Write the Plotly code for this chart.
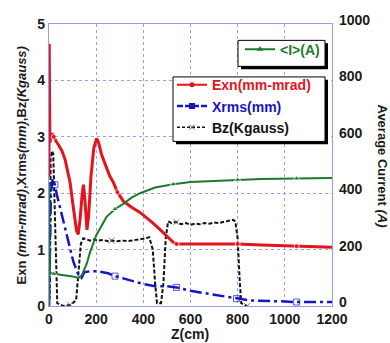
import plotly.graph_objects as go

# ---------------- data ----------------
exn_z = [0, 1, 2, 4, 8, 14, 20, 30, 40, 55, 68, 80, 89, 103, 117, 124, 132, 140, 146, 152, 157, 161, 168, 178, 190, 202, 210, 222, 235, 244, 258, 272, 290, 315, 350, 386, 420, 441, 470, 499, 527, 541, 570, 600, 700, 800, 900, 1050, 1200]
exn_v = [2.3, 4.65, 3.8, 2.9, 3.0, 3.06, 3.0, 2.92, 2.86, 2.75, 2.6, 2.4, 2.2, 1.75, 1.33, 1.27, 1.55, 1.95, 2.15, 1.9, 1.5, 1.35, 1.6, 2.3, 2.8, 2.97, 2.9, 2.7, 2.55, 2.45, 2.3, 2.2, 2.02, 1.86, 1.75, 1.66, 1.55, 1.47, 1.36, 1.24, 1.13, 1.1, 1.1, 1.1, 1.1, 1.1, 1.08, 1.06, 1.04]
exn_marks = [20, 290, 541, 800, 1050]

xrms_z = [0, 3, 8, 15, 20, 25, 33, 47, 75, 103, 124, 138, 150, 180, 216, 250, 280, 330, 400, 450, 480, 500, 541, 600, 700, 795, 850, 1000, 1050, 1200]
xrms_v = [0, 1.2, 2.0, 2.25, 2.2, 2.15, 1.98, 1.75, 1.3, 0.79, 0.56, 0.5, 0.6, 0.62, 0.61, 0.58, 0.53, 0.47, 0.39, 0.35, 0.35, 0.35, 0.33, 0.27, 0.2, 0.13, 0.1, 0.08, 0.07, 0.07]
xrms_marks = [25, 280, 541, 795, 1050]

bz_z = [0, 3, 7, 12, 18, 24, 30, 35, 60, 90, 115, 125, 135, 145, 160, 175, 190, 210, 230, 250, 265, 290, 310, 330, 350, 370, 390, 410, 425, 440, 450, 458, 475, 485, 495, 505, 520, 540, 560, 580, 600, 620, 640, 660, 680, 700, 720, 740, 760, 780, 790, 800, 808, 815, 840]
bz_v = [0, 0.2, 2.6, 2.75, 2.7, 1.8, 0.5, 0.05, 0.0, 0.02, 0.1, 0.6, 1.1, 1.2, 1.18, 1.16, 1.18, 1.16, 1.17, 1.15, 1.16, 1.15, 1.16, 1.15, 1.16, 1.17, 1.18, 1.2, 1.22, 1.0, 0.4, 0.05, 0.05, 0.4, 1.2, 1.5, 1.47, 1.49, 1.45, 1.47, 1.44, 1.46, 1.45, 1.47, 1.46, 1.48, 1.47, 1.49, 1.5, 1.53, 1.5, 1.2, 0.5, 0.05, 0.0]
bz_marks = [90, 265, 540, 840]

cur_z = [0, 1, 3, 20, 60, 100, 125, 140, 160, 174, 200, 244, 280, 315, 350, 386, 450, 527, 600, 700, 800, 900, 1050, 1200]
cur_v = [0, 440, 120, 114, 110, 105, 100, 110, 150, 190, 250, 316, 344, 362, 384, 400, 420, 432, 440, 444, 448, 450, 452, 454]
cur_marks = [20, 280, 527, 800, 1050]

# ---------------- layout helpers ----------------
W, H = 390, 343
L, R, T, B = 49, 332, 13, 306
def px_x(p):
    return (p - L) / (R - L)
def px_y(p):
    return (B - p) / (B - T)

RED = "#e3141b"
BLUE = "#1414c8"
GREEN = "#1c7a2c"
BLACK = "#111111"
FONT = "Liberation Sans, Arial, sans-serif"

def sizes(xs, marks, s):
    return [s if x in marks else 0 for x in xs]

fig = go.Figure()

fig.add_trace(go.Scatter(x=cur_z, y=cur_v, yaxis="y2", mode="lines+markers",
                         line=dict(color=GREEN, width=2),
                         marker=dict(symbol="triangle-up", size=sizes(cur_z, cur_marks, 6), color=GREEN),
                         showlegend=False))
fig.add_trace(go.Scatter(x=bz_z, y=bz_v, mode="lines+markers",
                         line=dict(color=BLACK, width=2, dash="4px,2px"),
                         marker=dict(symbol="x-thin", size=sizes(bz_z, bz_marks, 6), line=dict(color="#555", width=1)),
                         showlegend=False))
fig.add_trace(go.Scatter(x=xrms_z, y=xrms_v, mode="lines+markers",
                         line=dict(color=BLUE, width=2.5, dash="12px,4px,3px,4px"),
                         marker=dict(symbol="square-open", size=sizes(xrms_z, xrms_marks, 6), color=BLUE, line=dict(width=1)),
                         showlegend=False))
fig.add_trace(go.Scatter(x=exn_z, y=exn_v, mode="lines+markers",
                         line=dict(color=RED, width=3),
                         marker=dict(symbol="circle", size=sizes(exn_z, exn_marks, 5), color=RED),
                         showlegend=False))

# legend entries
fig.add_trace(go.Scatter(x=[None], y=[None], yaxis="y2", mode="lines+markers", legend="legend",
                         name='<span style="color:%s">&lt;I&gt;(A)</span>' % GREEN,
                         line=dict(color=GREEN, width=2), marker=dict(symbol="triangle-up", size=6, color=GREEN)))
fig.add_trace(go.Scatter(x=[None], y=[None], mode="lines+markers", legend="legend2",
                         name='<span style="color:%s">Exn(mm-mrad)</span>' % RED,
                         line=dict(color=RED, width=2), marker=dict(symbol="circle", size=5, color=RED)))
fig.add_trace(go.Scatter(x=[None], y=[None], mode="lines+markers", legend="legend2",
                         name='<span style="color:%s">Xrms(mm)</span>' % BLUE,
                         line=dict(color=BLUE, width=2.5, dash="6px,2px"), marker=dict(symbol="square", size=6, color=BLUE)))
fig.add_trace(go.Scatter(x=[None], y=[None], mode="lines+markers", legend="legend2",
                         name='<span style="color:%s">Bz(Kgauss)</span>' % BLACK,
                         line=dict(color=BLACK, width=1.5, dash="3px,2px"), marker=dict(symbol="x-thin", size=5, line=dict(color="#555", width=1))))

# legend boxes with shadows
shapes = []
for (x0, y0, x1, y1) in [(238, 30, 325, 57), (173, 68, 325, 135)]:
    shapes.append(dict(type="rect", xref="paper", yref="paper",
                       x0=px_x(x0 + 3), x1=px_x(x1 + 3), y0=px_y(y1 + 3), y1=px_y(y0 + 3),
                       fillcolor="black", line=dict(width=0), layer="above"))
    shapes.append(dict(type="rect", xref="paper", yref="paper",
                       x0=px_x(x0), x1=px_x(x1), y0=px_y(y1), y1=px_y(y0),
                       fillcolor="white", line=dict(color="black", width=1), layer="above"))

axis_common = dict(showline=True, linecolor="#9a9aee", linewidth=1.2, zeroline=False,
                   ticks="", tickfont=dict(family=FONT, size=14, color="#1a1a1a", weight="bold"))

fig.update_layout(
    width=W, height=H,
    margin=dict(l=L, r=W - R, t=T, b=H - B),
    paper_bgcolor="white", plot_bgcolor="white",
    xaxis=dict(range=[0, 1200], dtick=200, showgrid=True, gridcolor="#9c9cff", griddash="dot",
               gridwidth=1, mirror=True, **axis_common),
    yaxis=dict(range=[0, 5], dtick=1, showgrid=True, gridcolor="#9c9cff", griddash="dot",
               gridwidth=1, mirror=True, **axis_common),
    yaxis2=dict(range=[0, 1000], dtick=200, overlaying="y", side="right", showgrid=False,
                ticklabelstandoff=3, ticklabelshift=-4, **axis_common),
    legend=dict(x=px_x(240), y=px_y(23), xanchor="left", yanchor="top",
                bgcolor="rgba(0,0,0,0)", borderwidth=0,
                font=dict(family=FONT, size=14, weight="bold"), itemwidth=30, tracegroupgap=0),
    legend2=dict(x=px_x(172), y=px_y(60), xanchor="left", yanchor="top",
                 bgcolor="rgba(0,0,0,0)", borderwidth=0,
                 font=dict(family=FONT, size=14, weight="bold"), itemwidth=30, tracegroupgap=0),
    shapes=shapes,
    annotations=[
        dict(text="Z(cm)", xref="paper", yref="paper", x=px_x(190), y=px_y(335), showarrow=False,
             xanchor="center", yanchor="middle", font=dict(family=FONT, size=14, color="#1a1a1a", weight="bold")),
        dict(text="Exn <i>(mm-mrad)</i>,Xrms<i>(mm)</i>,Bz<i>(Kgauss)</i>", xref="paper", yref="paper",
             x=px_x(21), y=px_y(160), showarrow=False, textangle=-90, xanchor="center", yanchor="middle",
             font=dict(family=FONT, size=13, color="#1a1a1a", weight="bold")),
        dict(text="Average Current <i>(A)</i>", xref="paper", yref="paper",
             x=px_x(383), y=px_y(160), showarrow=False, textangle=90, xanchor="center", yanchor="middle",
             font=dict(family=FONT, size=13, color="#1a1a1a", weight="bold")),
    ],
)

fig.write_html("out.html")
